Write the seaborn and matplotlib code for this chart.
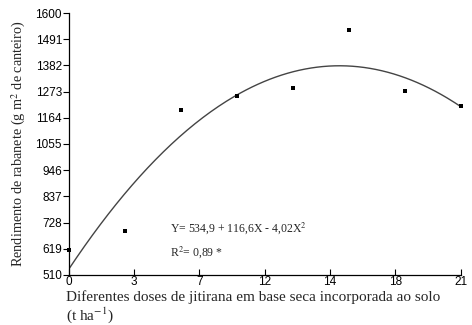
import numpy as np
import pandas as pd
import matplotlib
matplotlib.use("Agg")
import matplotlib.pyplot as plt
import seaborn as sns

# doses of jitirana (t/ha) and radish yield
doses = [0, 3, 6, 9, 12, 15, 18, 21]
rendimento = [615, 693, 1197, 1253, 1286, 1528, 1274, 1214]

# fitted equation printed on the chart: Y = 534.9 + 116.6X - 4.02X^2
coef = [534.9, 116.6, -4.02]

y_ticks = [510, 619, 728, 837, 946, 1055, 1164, 1273, 1382, 1491, 1600]
x_tick_pos = [0, 3.5, 7, 10.5, 14, 17.5, 21]
x_tick_labels = ["0", "3", "7", "12", "14", "18", "21"]

sns.set_style("ticks")
plt.rcParams['mathtext.fontset'] = 'stix'

df = pd.DataFrame({"dose": doses, "rend": rendimento})
xs = np.linspace(0, 21, 200)
curve = pd.DataFrame({"dose": xs, "rend": coef[0] + coef[1] * xs + coef[2] * xs ** 2})

fig = plt.figure(figsize=(4.72, 3.25), dpi=100)
ax = fig.add_axes([0.146, 0.154, 0.830, 0.806])

sns.lineplot(data=curve, x="dose", y="rend", color="#444444", linewidth=1.0, ax=ax)
sns.scatterplot(data=df, x="dose", y="rend", color="black", marker="s", s=12,
                edgecolor="black", linewidth=0, clip_on=False, ax=ax, zorder=3)

ax.set_xlim(0, 21)
ax.set_ylim(510, 1600)
ax.set_yticks(y_ticks)
ax.set_xticks(x_tick_pos)
ax.set_xticklabels(x_tick_labels)
sns.despine(ax=ax)
for s in ["left", "bottom"]:
    ax.spines[s].set_linewidth(0.9)
    ax.spines[s].set_color("black")

ax.tick_params(axis="y", direction="out", length=4, width=0.8, labelsize=8.5, pad=1, colors="black")
ax.tick_params(axis="x", direction="in", length=4, width=0.8, labelsize=8.5, pad=1, colors="black")
for lab in ax.get_xticklabels() + ax.get_yticklabels():
    lab.set_family("Liberation Sans")

ax.set_xlabel("")
ax.set_ylabel(r"Rendimento de rabanete (g m$^{2}$ de canteiro)", family="Liberation Serif",
              fontsize=10.3)
ax.yaxis.set_label_coords(-0.105, 0.5)

fig.text(66 / 472, 1 - 301 / 325, "Diferentes doses de jitirana em base seca incorporada ao solo",
         family="Liberation Serif", fontsize=11, ha="left", va="baseline")
fig.text(66 / 472, 1 - 320 / 325, r"(t ha$^{-1}$)",
         family="Liberation Serif", fontsize=11, ha="left", va="baseline")

ax.text(5.4, 688, r"Y= 534,9 + 116,6X - 4,02X$^{2}$", family="Liberation Serif", fontsize=8.5)
ax.text(5.4, 592, r"R$^{2}$= 0,89 *", family="Liberation Serif", fontsize=8.5)

fig.savefig("out.png", dpi=100)
